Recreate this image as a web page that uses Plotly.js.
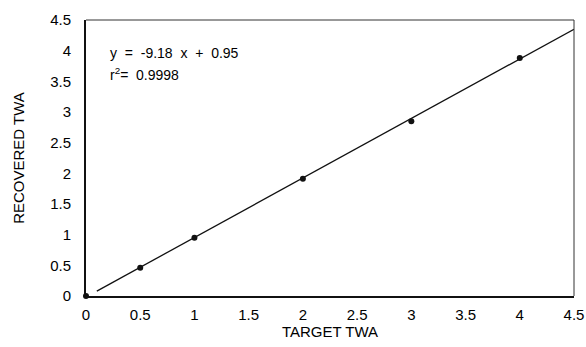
<!DOCTYPE html>
<html><head><meta charset="utf-8">
<script src="https://cdn.plot.ly/plotly-3.0.1.min.js"></script>
<style>body{margin:0;background:#fff}#c{width:586px;height:347px}</style>
</head><body><div id="c"></div>
<script>
const targetTWA = [0, 0.5, 1, 2, 3, 4];
const recoveredTWA = [0, 0.46, 0.95, 1.91, 2.85, 3.88];
const fitX = [0.1, 4.5];
const fitY = [0.08, 4.35];
const tickVals = [0, 0.5, 1, 1.5, 2, 2.5, 3, 3.5, 4, 4.5];
const tickText = ['0', '0.5', '1', '1.5', '2', '2.5', '3', '3.5', '4', '4.5'];
const eqLine1 = 'y  =  -9.18  x  +  0.95';
const eqLine2 = 'r<sup>2</sup>=  0.9998';

const font = {family: 'Liberation Sans, Arial, sans-serif', color: '#000'};
const data = [
  {x: fitX, y: fitY, mode: 'lines', line: {color: '#111', width: 1.3}, hoverinfo: 'skip'},
  {x: targetTWA, y: recoveredTWA, mode: 'markers', marker: {color: '#111', size: 6}, cliponaxis: false}
];
const axBase = {
  range: [0, 4.5], tickvals: tickVals, ticktext: tickText, showgrid: false, zeroline: false,
  ticks: '', showline: true, linecolor: '#111', linewidth: 2, mirror: false,
  tickfont: Object.assign({size: 15}, font)
};
const layout = {
  width: 586, height: 347, showlegend: false,
  paper_bgcolor: '#fff', plot_bgcolor: '#fff',
  margin: {l: 86, r: 12, t: 20, b: 51},
  xaxis: Object.assign({}, axBase, {ticklabelstandoff: 4,
    title: {text: 'TARGET TWA', font: Object.assign({size: 15}, font), standoff: 1}}),
  yaxis: Object.assign({}, axBase, {ticklabelstandoff: 10,
    title: {text: 'RECOVERED TWA', font: Object.assign({size: 15}, font), standoff: 22}}),
  shapes: [
    {type: 'line', xref: 'paper', yref: 'paper', x0: 0, x1: 1, y0: 1, y1: 1, line: {color: '#333', width: 1}},
    {type: 'line', xref: 'paper', yref: 'paper', x0: 1, x1: 1, y0: 0, y1: 1, line: {color: '#333', width: 1}}
  ],
  annotations: [
    {x: 0.2, y: 4.12, xref: 'x', yref: 'y', text: eqLine1, showarrow: false, align: 'left',
     xanchor: 'left', yanchor: 'top', font: Object.assign({size: 14}, font)},
    {x: 0.2, y: 3.8, xref: 'x', yref: 'y', text: eqLine2, showarrow: false, align: 'left',
     xanchor: 'left', yanchor: 'top', font: Object.assign({size: 14}, font)}
  ]
};
Plotly.newPlot('c', data, layout, {displayModeBar: false, staticPlot: true});
</script></body></html>
